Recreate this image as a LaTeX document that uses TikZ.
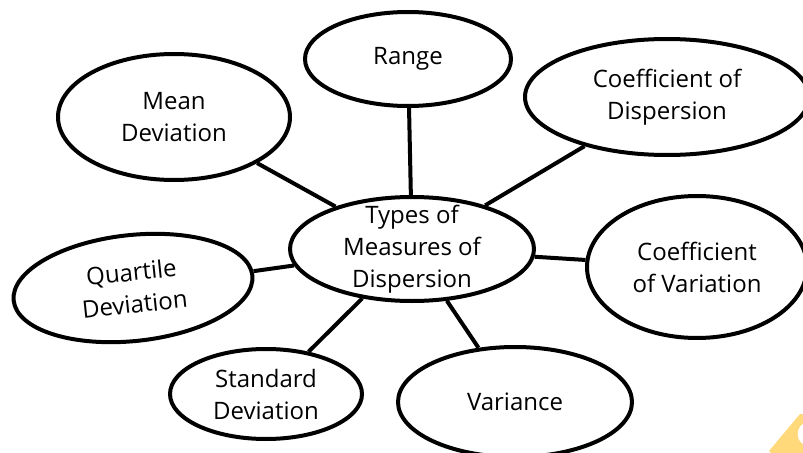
\documentclass[tikz,border=0pt]{standalone}
\usepackage{fontspec}
\setmainfont{Open Sans}
\usepackage{tikz}
\usetikzlibrary{shapes.geometric}
\definecolor{sticker}{HTML}{FFD97A}
\tikzset{
    bubble/.style 2 args = {ellipse, draw=black, line width=3pt, fill=white, minimum width=#1*1.5pt, minimum height=#2*1.5pt, inner xsep=0pt, inner ysep=-12pt, align=center, font=\fontsize{18}{24}\selectfont},
    spoke/.style = {draw=black, line width=3pt},
}

\begin{document}
\begin{tikzpicture}[x=0.75pt, y=-0.75pt]
\useasboundingbox (0,0) rectangle (803,453);
\clip (0,0) rectangle (803,453);
% corner sticker
\fill[sticker] (769,451) -- (800,414) -- (803,414) -- (803,453) -- (771,453) -- cycle;
\fill[white] (803,424) .. controls (796,428) and (796,440) .. (803,444) -- cycle;

\node[bubble={122}{52}] (types) at (412,249) {Types of\\Measures of\\Dispersion};
\node[bubble={103}{47}] (range) at (408,59) {Range};
\node[bubble={116}{63}] (mean) at (174,117) {Mean\\Deviation};
\node[bubble={142}{58}] (cod) at (667,97) {Coefficient of\\Dispersion};
\node[bubble={110}{71}] (cov) at (697,267) {Coefficient\\of Variation};
\node[bubble={120}{53}, rotate=6] (quartile) at (133,288) {Quartile\\Deviation};
\node[bubble={96}{45}] (sd) at (266,394) {Standard\\Deviation};
\node[bubble={117}{55}] (variance) at (515,402) {Variance};

% spokes
\draw[spoke] (types) -- (range);
\draw[spoke] (types) -- (mean);
\draw[spoke] (types) -- (cod);
\draw[spoke] (types) -- (cov);
\draw[spoke] (types) -- (quartile);
\draw[spoke] (types) -- (sd);
\draw[spoke] (types) -- (variance);
\end{tikzpicture}
\end{document}
